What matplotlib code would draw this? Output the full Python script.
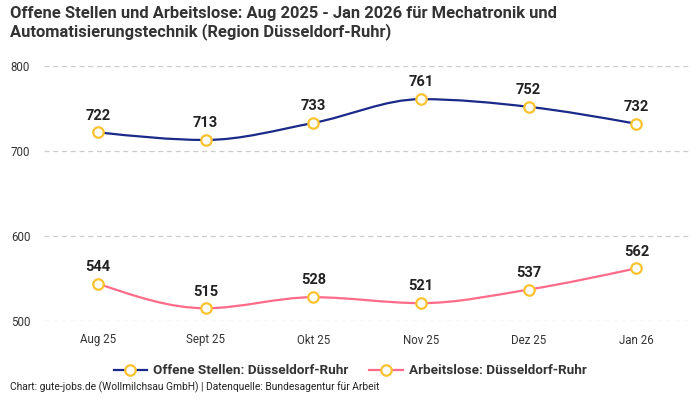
import numpy as np
import matplotlib.pyplot as plt
from matplotlib.path import Path
from matplotlib.patches import PathPatch
from matplotlib.lines import Line2D

plt.rcParams['font.family'] = ['Roboto', 'DejaVu Sans']

months = ["Aug 25", "Sept 25", "Okt 25", "Nov 25", "Dez 25", "Jan 26"]
offene = [722, 713, 733, 761, 752, 732]
arbeitslose = [544, 515, 528, 521, 537, 562]

c_offen = "#1b2a8a"
c_arb = "#ff6b88"
c_mark = "#f9c22e"


def monotone_path(x, y):
    # Bezier-Segmente wie d3.curveMonotoneX
    x = np.asarray(x, float)
    y = np.asarray(y, float)
    n = len(x)
    h = np.diff(x)
    s = np.diff(y) / h
    t = np.zeros(n)
    for i in range(1, n - 1):
        p = (s[i - 1] * h[i] + s[i] * h[i - 1]) / (h[i - 1] + h[i])
        t[i] = (np.sign(s[i - 1]) + np.sign(s[i])) * min(abs(s[i - 1]), abs(s[i]), 0.5 * abs(p))
    t[0] = (3 * s[0] - t[1]) / 2
    t[-1] = (3 * s[-1] - t[-2]) / 2
    verts = [(x[0], y[0])]
    codes = [Path.MOVETO]
    for i in range(n - 1):
        dx = (x[i + 1] - x[i]) / 3
        verts += [(x[i] + dx, y[i] + dx * t[i]),
                  (x[i + 1] - dx, y[i + 1] - dx * t[i + 1]),
                  (x[i + 1], y[i + 1])]
        codes += [Path.CURVE4] * 3
    return Path(verts, codes)


fig = plt.figure(figsize=(7, 4), dpi=100)
ax = fig.add_axes([0.063, 0.1975, 0.923, 0.6375])

xs = np.arange(len(months))
for vals, col in [(offene, c_offen), (arbeitslose, c_arb)]:
    ax.add_patch(PathPatch(monotone_path(xs, vals), facecolor="none",
                           edgecolor=col, lw=1.6, zorder=2))
    ax.plot(xs, vals, ls="none", marker="o", ms=7.5, mfc="white",
            mec=c_mark, mew=1.6, zorder=3)
    for xi, v in zip(xs, vals):
        ax.annotate(str(v), (xi, v), xytext=(0, 7), textcoords="offset points",
                    ha="center", va="bottom", fontsize=10.5, fontweight="bold",
                    color="#222222")

ax.set_xlim(-0.5, 5.5)
ax.set_ylim(500, 800)
ax.set_yticks([500, 600, 700, 800])
ax.set_xticks(xs)
ax.set_xticklabels(months)
ax.tick_params(axis="both", length=0, labelsize=8.3, colors="#333333")
ax.tick_params(axis="x", pad=9)
ax.tick_params(axis="y", pad=24)
for lab in ax.get_yticklabels():
    lab.set_horizontalalignment("left")
ax.grid(axis="y", ls=(0, (4, 3)), color="#cccccc", lw=0.9)
for sp in ax.spines.values():
    sp.set_visible(False)

fig.text(0.014, 0.985, "Offene Stellen und Arbeitslose: Aug 2025 - Jan 2026 für Mechatronik und\n"
         "Automatisierungstechnik (Region Düsseldorf-Ruhr)",
         ha="left", va="top", fontsize=11.9, fontweight="bold", color="#333333",
         linespacing=1.15)

handles = [Line2D([], [], color=c_offen, lw=1.6, marker="o", ms=7.5, mfc="white",
                  mec=c_mark, mew=1.6),
           Line2D([], [], color=c_arb, lw=1.6, marker="o", ms=7.5, mfc="white",
                  mec=c_mark, mew=1.6)]
leg = fig.legend(handles, ["Offene Stellen: Düsseldorf-Ruhr", "Arbeitslose: Düsseldorf-Ruhr"],
                 loc="center", bbox_to_anchor=(0.5, 0.0725), ncol=2, frameon=False,
                 prop={"size": 9.7, "weight": "bold"}, handlelength=2.5,
                 columnspacing=1.5, handletextpad=0.45)
for t in leg.get_texts():
    t.set_color("#333333")

fig.text(0.014, 0.017, "Chart: gute-jobs.de (Wollmilchsau GmbH) | Datenquelle: Bundesagentur für Arbeit",
         ha="left", va="bottom", fontsize=7.4, color="#222222")

fig.savefig("out.png", dpi=100)
